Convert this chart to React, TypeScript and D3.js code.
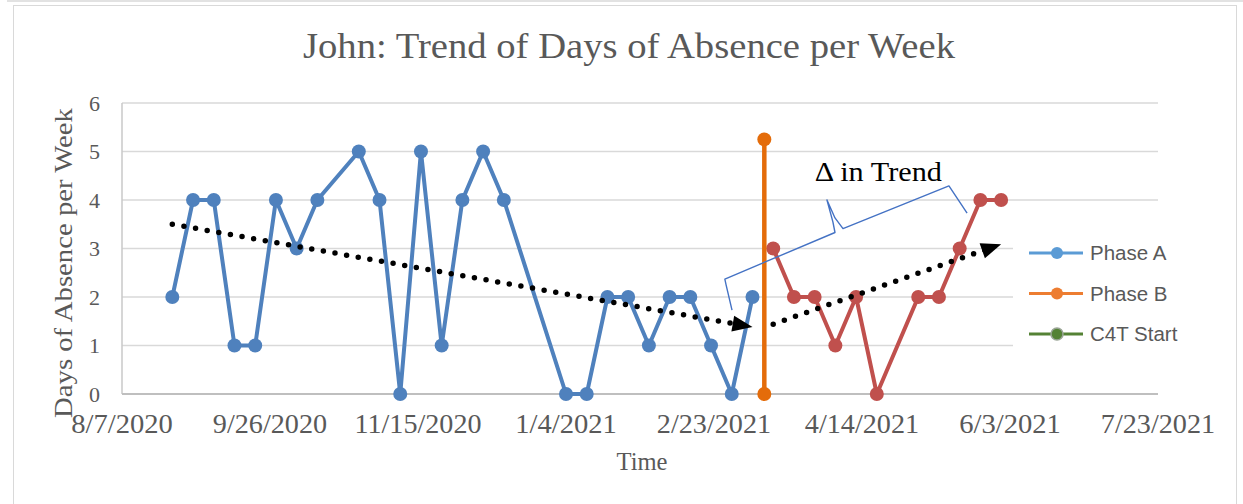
import React, { useEffect, useRef } from 'react';
import * as d3 from 'd3';

// weekly absence counts
const phaseADates = ['8/24/2020', '8/31/2020', '9/7/2020', '9/14/2020', '9/21/2020', '9/28/2020', '10/5/2020', '10/12/2020',
  '10/26/2020', '11/2/2020', '11/9/2020', '11/16/2020', '11/23/2020', '11/30/2020', '12/7/2020', '12/14/2020',
  '1/4/2021', '1/11/2021', '1/18/2021', '1/25/2021', '2/1/2021', '2/8/2021', '2/15/2021', '2/22/2021', '3/1/2021', '3/8/2021'];
const phaseAValues = [2, 4, 4, 1, 1, 4, 3, 4, 5, 4, 0, 5, 1, 4, 5, 4, 0, 0, 2, 2, 1, 2, 2, 1, 0, 2];

const c4tDates = ['3/15/2021', '3/22/2021', '3/29/2021', '4/5/2021', '4/12/2021', '4/19/2021', '5/3/2021', '5/10/2021', '5/17/2021', '5/24/2021', '5/31/2021'];
const c4tValues = [3, 2, 2, 1, 2, 0, 2, 2, 3, 4, 4];

const phaseBDates = ['3/12/2021', '3/12/2021'];
const phaseBValues = [0, 5.25];

const xTickLabels = ['8/7/2020', '9/26/2020', '11/15/2020', '1/4/2021', '2/23/2021', '4/14/2021', '6/3/2021', '7/23/2021'];
const yTicks = [0, 1, 2, 3, 4, 5, 6];

// hand drawn trend arrows
const trendADates = ['8/24/2020', '3/8/2021'];
const trendAValues = [3.5, 1.38];
const trendBDates = ['3/15/2021', '5/31/2021'];
const trendBValues = [1.44, 3.09];

// brace annotation, days after 8/7/2020
const braceDays = [206.1, 204.1, 203.7, 240.9, 240.2, 238.2, 240.9, 243.6, 279.4, 285.5];
const braceValues = [1.73, 2.25, 2.37, 3.33, 3.55, 4.0, 3.63, 3.41, 4.29, 3.73];

const legendNames = ['Phase A', 'Phase B', 'C4T Start'];
const legendColors = ['#5B9BD5', '#ED7D31', '#548235'];

const BLUE = '#4F81BD';
const RED = '#C0504D';
const ORANGE = '#E46C0A';
const GREY_TEXT = '#595959';
const SERIF = '"Liberation Serif", "DejaVu Serif", serif';

export default function App() {
  const ref = useRef<SVGSVGElement>(null);

  useEffect(() => {
    const svg = d3.select(ref.current);
    svg.selectAll('*').remove();
    const parse = d3.timeParse('%m/%d/%Y');

    const x = d3.scaleTime()
      .domain([parse(xTickLabels[0])!, parse(xTickLabels[xTickLabels.length - 1])!])
      .range([122, 1158]);
    const y = d3.scaleLinear().domain([0, 6]).range([394, 103]);

    // frame
    svg.append('line').attr('x1', 7).attr('x2', 1243).attr('y1', 1).attr('y2', 1)
      .attr('stroke', '#d9d9d9').attr('stroke-width', 1.5);
    svg.append('rect').attr('x', 13.5).attr('y', 5.5).attr('width', 1223).attr('height', 520)
      .attr('fill', 'white').attr('stroke', '#d9d9d9').attr('stroke-width', 1);

    // title
    svg.append('text').attr('x', 629).attr('y', 58).attr('text-anchor', 'middle')
      .attr('font-family', SERIF).attr('font-size', 35).attr('fill', GREY_TEXT)
      .attr('textLength', 652).attr('lengthAdjust', 'spacingAndGlyphs')
      .text('John: Trend of Days of Absence per Week');

    // grid
    svg.append('g').selectAll('line').data(yTicks.filter(d => d > 0)).enter().append('line')
      .attr('x1', 122).attr('x2', 1158)
      .attr('y1', d => y(d)).attr('y2', d => y(d))
      .attr('stroke', '#d9d9d9').attr('stroke-width', 1.5);
    svg.append('line').attr('x1', 122).attr('x2', 122).attr('y1', y(6)).attr('y2', y(0))
      .attr('stroke', '#c8c8c8').attr('stroke-width', 1.5);
    svg.append('line').attr('x1', 122).attr('x2', 1158).attr('y1', y(0)).attr('y2', y(0))
      .attr('stroke', '#bfbfbf').attr('stroke-width', 2);

    // y ticks
    svg.append('g').selectAll('text').data(yTicks).enter().append('text')
      .attr('x', 100).attr('y', d => y(d) + 7.5).attr('text-anchor', 'end')
      .attr('font-family', SERIF).attr('font-size', 22).attr('fill', GREY_TEXT)
      .text(d => d);

    // x ticks
    svg.append('g').selectAll('text').data(xTickLabels).enter().append('text')
      .attr('x', d => x(parse(d)!)).attr('y', 433).attr('text-anchor', 'middle')
      .attr('font-family', SERIF).attr('font-size', 27).attr('fill', GREY_TEXT)
      .attr('textLength', d => d.length * 12.7).attr('lengthAdjust', 'spacingAndGlyphs')
      .text(d => d);

    // axis titles
    svg.append('text').attr('x', 642).attr('y', 470).attr('text-anchor', 'middle')
      .attr('font-family', SERIF).attr('font-size', 26).attr('fill', GREY_TEXT)
      .attr('textLength', 51).attr('lengthAdjust', 'spacingAndGlyphs')
      .text('Time');
    svg.append('text').attr('transform', 'translate(72,263) rotate(-90)').attr('text-anchor', 'middle')
      .attr('font-family', SERIF).attr('font-size', 26).attr('fill', GREY_TEXT)
      .attr('textLength', 310).attr('lengthAdjust', 'spacingAndGlyphs')
      .text('Days of Absence per Week');

    const line = d3.line<[Date, number]>().x(d => x(d[0])).y(d => y(d[1]));

    const drawSeries = (dates: string[], values: number[], color: string, width: number) => {
      const pts: [Date, number][] = dates.map((d, i) => [parse(d)!, values[i]]);
      const g = svg.append('g');
      g.append('path').datum(pts).attr('d', line).attr('fill', 'none')
        .attr('stroke', color).attr('stroke-width', width).attr('stroke-linejoin', 'round');
      g.selectAll('circle').data(pts).enter().append('circle')
        .attr('cx', d => x(d[0])).attr('cy', d => y(d[1])).attr('r', 7).attr('fill', color);
    };

    drawSeries(phaseADates, phaseAValues, BLUE, 4);
    drawSeries(c4tDates, c4tValues, RED, 4);
    drawSeries(phaseBDates, phaseBValues, ORANGE, 4.5);

    // dotted trend arrows
    const drawTrend = (dates: string[], values: number[]) => {
      const x1 = x(parse(dates[0])!), y1 = y(values[0]);
      const x2 = x(parse(dates[1])!), y2 = y(values[1]);
      const ang = Math.atan2(y2 - y1, x2 - x1);
      const len = 20, half = 8;
      const bx = x2 - len * Math.cos(ang), by = y2 - len * Math.sin(ang);
      svg.append('line').attr('x1', x1).attr('y1', y1).attr('x2', bx + 4 * Math.cos(ang)).attr('y2', by + 4 * Math.sin(ang))
        .attr('stroke', '#000').attr('stroke-width', 5.5).attr('stroke-linecap', 'round')
        .attr('stroke-dasharray', '0 11.8');
      const pts = [
        [x2, y2],
        [bx + half * Math.sin(ang), by - half * Math.cos(ang)],
        [bx - half * Math.sin(ang), by + half * Math.cos(ang)],
      ];
      svg.append('polygon').attr('points', pts.map(p => p.join(',')).join(' ')).attr('fill', '#000');
    };
    drawTrend(trendADates, trendAValues);
    drawTrend(trendBDates, trendBValues);

    // brace
    const start = parse(xTickLabels[0])!;
    const bracePts: [Date, number][] = braceDays.map((d, i) => [d3.timeHour.offset(start, d * 24), braceValues[i]]);
    svg.append('path').datum(bracePts).attr('d', line).attr('fill', 'none')
      .attr('stroke', '#4472C4').attr('stroke-width', 1.4).attr('stroke-linejoin', 'round');

    svg.append('text').attr('x', x(d3.timeHour.offset(start, 234.1 * 24))).attr('y', y(4.39))
      .attr('font-family', SERIF).attr('font-size', 28).attr('fill', '#000')
      .attr('textLength', 127).attr('lengthAdjust', 'spacingAndGlyphs')
      .text('Δ in Trend');

    // legend
    svg.append('rect').attr('x', 1013).attr('y', 232).attr('width', 200).attr('height', 125).attr('fill', 'white');
    const lg = svg.append('g').selectAll('g').data(legendNames).enter().append('g')
      .attr('transform', (d, i) => `translate(1029, ${253 + i * 40.5})`);
    lg.append('line').attr('x1', 0).attr('x2', 54).attr('y1', 0).attr('y2', 0)
      .attr('stroke', (d, i) => legendColors[i]).attr('stroke-width', 3);
    lg.append('circle').attr('cx', 28).attr('cy', 0).attr('r', 6)
      .attr('fill', (d, i) => legendColors[i])
      .attr('stroke', (d, i) => i === 2 ? '#9aa596' : 'none').attr('stroke-width', 1.5);
    lg.append('text').attr('x', 61).attr('y', 7).attr('font-family', '"Liberation Sans", Arial, sans-serif')
      .attr('font-size', 20.5).attr('fill', GREY_TEXT).text(d => d);
  }, []);

  return (
    <svg ref={ref} width={1243} height={504} style={{ position: 'absolute', left: 0, top: 0, background: 'white' }} />
  );
}
